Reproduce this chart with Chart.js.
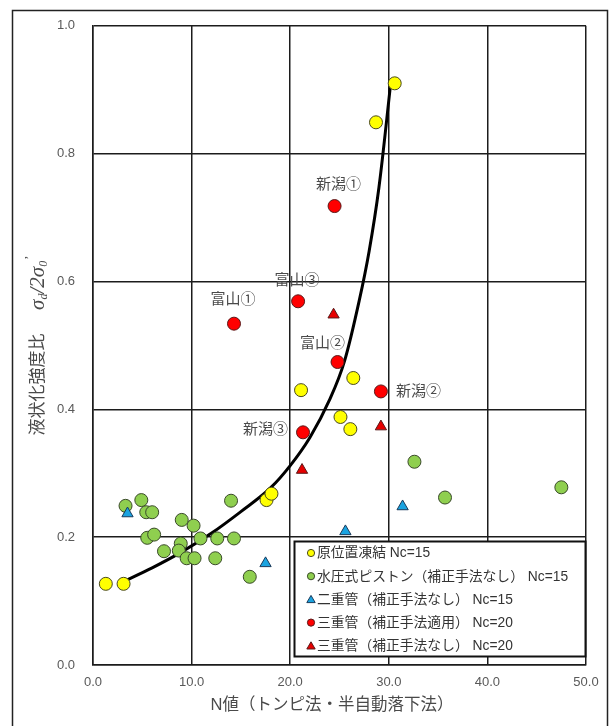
<!DOCTYPE html>
<html>
<head>
<meta charset="utf-8">
<script src="https://cdn.jsdelivr.net/npm/chart.js@4/dist/chart.umd.min.js"></script>
<style>
  html, body { margin: 0; padding: 0; background: #fff; }
  canvas { display: block; }
</style>
</head>
<body>
<canvas id="c" width="612" height="726"></canvas>
<script>
// 原位置凍結 Nc=15
const frozenN = [1.3, 3.1, 17.6, 18.1, 21.1, 26.4, 25.1, 26.1, 28.7, 30.6];
const frozenR = [0.127, 0.127, 0.258, 0.268, 0.430, 0.449, 0.388, 0.369, 0.849, 0.910];

// 水圧式ピストン（補正手法なし） Nc=15
const pistonN = [3.3, 4.9, 5.4, 6.0, 14.0, 9.0, 10.2, 5.5, 6.2, 8.9, 7.2, 8.7, 9.5, 10.3, 10.9, 12.6, 14.3, 12.4, 15.9, 32.6, 35.7, 47.5];
const pistonR = [0.249, 0.258, 0.239, 0.239, 0.257, 0.227, 0.218, 0.199, 0.204, 0.190, 0.178, 0.179, 0.167, 0.167, 0.198, 0.198, 0.198, 0.167, 0.138, 0.318, 0.262, 0.278];

// 二重管（補正手法なし） Nc=15
const doubleN = [3.5, 17.5, 25.6, 31.4];
const doubleR = [0.237, 0.159, 0.209, 0.248];

// 三重管（補正手法適用） Nc=20
const tripleCorrN = [24.5, 20.8, 14.3, 24.8, 29.2, 21.3];
const tripleCorrR = [0.718, 0.569, 0.534, 0.474, 0.428, 0.364];
const siteNames   = ['新潟①', '富山③', '富山①', '富山②', '新潟②', '新潟③'];

// 三重管（補正手法なし） Nc=20
const tripleRawN = [24.4, 21.2, 29.2];
const tripleRawR = [0.548, 0.305, 0.373];

// trend curve
const curveN = [3.0, 6.0, 9.0, 12.0, 15.0, 18.0, 20.0, 22.0, 24.0, 25.5, 27.0, 28.0, 29.0, 30.2];
const curveR = [0.130, 0.152, 0.177, 0.206, 0.240, 0.277, 0.312, 0.356, 0.415, 0.475, 0.570, 0.647, 0.747, 0.911];

const xTicks = [0, 10, 20, 30, 40, 50];
const yTicks = [0, 0.2, 0.4, 0.6, 0.8, 1.0];

const seriesNames = [
  '原位置凍結 Nc=15',
  '水圧式ピストン（補正手法なし） Nc=15',
  '二重管（補正手法なし） Nc=15',
  '三重管（補正手法適用） Nc=20',
  '三重管（補正手法なし） Nc=20'
];

const pts = (xs, ys) => xs.map((x, i) => ({ x: x, y: ys[i] }));

const FONT = '"Liberation Sans", "Noto Sans CJK JP", sans-serif';
const GRID = '#1c1c1c';

const datasets = [
  { label: seriesNames[3], data: pts(tripleCorrN, tripleCorrR), pointStyle: 'circle', pointRadius: 6.5,
    backgroundColor: '#ff0000', borderColor: '#5a1a1a', borderWidth: 1, order: 1 },
  { label: seriesNames[4], data: pts(tripleRawN, tripleRawR), pointStyle: 'triangle', pointRadius: 6.5,
    backgroundColor: '#e60000', borderColor: '#5a1a1a', borderWidth: 1, order: 1 },
  { label: seriesNames[0], data: pts(frozenN, frozenR), pointStyle: 'circle', pointRadius: 6.5,
    backgroundColor: '#ffff00', borderColor: '#4a4a20', borderWidth: 1, order: 2 },
  { label: seriesNames[2], data: pts(doubleN, doubleR), pointStyle: 'triangle', pointRadius: 6.5,
    backgroundColor: '#1aa3e0', borderColor: '#1a3a5a', borderWidth: 1, order: 2 },
  { label: seriesNames[1], data: pts(pistonN, pistonR), pointStyle: 'circle', pointRadius: 6.5,
    backgroundColor: '#8fcf4f', borderColor: '#3a4a2a', borderWidth: 1, order: 3 },
  { label: 'curve', data: pts(curveN, curveR), showLine: true, pointRadius: 0, borderColor: '#000',
    borderWidth: 3, cubicInterpolationMode: 'monotone', fill: false, order: 10 }
];

// white page with an outer frame
const framePlugin = {
  id: 'frame',
  beforeDraw(chart) {
    const ctx = chart.ctx;
    ctx.save();
    ctx.fillStyle = '#fff';
    ctx.fillRect(0, 0, chart.width, chart.height);
    ctx.strokeStyle = '#222';
    ctx.lineWidth = 1.5;
    ctx.strokeRect(12.5, 10.5, 595, 740);
    ctx.restore();
  }
};

// site names beside the 三重管 points, axis titles and the boxed legend
const textPlugin = {
  id: 'texts',
  afterDraw(chart) {
    const ctx = chart.ctx;
    const xs = chart.scales.x, ys = chart.scales.y;
    ctx.save();

    // site labels: [dx, dy, align]
    const offs = [[4, -21, 'center'], [-1, -20, 'center'], [-1, -24, 'center'],
                  [-15, -18, 'center'], [15, 0, 'left'], [-15, -2, 'right']];
    ctx.font = '15px ' + FONT;
    ctx.fillStyle = '#4a4a4a';
    ctx.textBaseline = 'middle';
    siteNames.forEach((name, i) => {
      const px = xs.getPixelForValue(tripleCorrN[i]);
      const py = ys.getPixelForValue(tripleCorrR[i]);
      ctx.textAlign = offs[i][2];
      ctx.fillText(name, px + offs[i][0], py + offs[i][1]);
    });

    // x axis title
    ctx.font = '16.5px ' + FONT;
    ctx.fillStyle = '#4a4a4a';
    ctx.textAlign = 'center';
    ctx.fillText('N値（トンピ法・半自動落下法）', 332, 705);

    // y axis title with sub/superscripts
    const SER = '"Liberation Serif", serif';
    const parts = [
      { t: '液状化強度比', f: '17px ' + FONT, dy: 0 },
      { t: '     ', f: '17px ' + FONT, dy: 0 },
      { t: 'σ', f: 'italic 21px ' + SER, dy: 0 },
      { t: 'd', f: 'italic 12px ' + SER, dy: 6 },
      { t: '/2', f: 'italic 21px ' + SER, dy: 0 },
      { t: 'σ', f: 'italic 21px ' + SER, dy: 0 },
      { t: '0', f: 'italic 12px ' + SER, dy: 6 },
      { t: '\u2019', f: 'italic 13px ' + SER, dy: -8 }
    ];
    let total = 0;
    parts.forEach(p => { ctx.font = p.f; p.w = ctx.measureText(p.t).width; total += p.w; });
    ctx.translate(38, 346);
    ctx.rotate(-Math.PI / 2);
    ctx.textAlign = 'left';
    let cx = -total / 2;
    parts.forEach(p => {
      ctx.font = p.f;
      ctx.fillText(p.t, cx, p.dy);
      cx += p.w;
    });
    ctx.setTransform(1, 0, 0, 1, 0, 0);

    // legend box
    const bx = 294.5, by = 541.5, bw = 291, bh = 115;
    ctx.fillStyle = '#fff';
    ctx.fillRect(bx, by, bw, bh);
    ctx.strokeStyle = '#111';
    ctx.lineWidth = 2;
    ctx.strokeRect(bx, by, bw, bh);

    const legendOrder = [
      { name: seriesNames[0], shape: 'circle', fill: '#ffff00', line: '#4a4a20' },
      { name: seriesNames[1], shape: 'circle', fill: '#8fcf4f', line: '#3a4a2a' },
      { name: seriesNames[2], shape: 'triangle', fill: '#1aa3e0', line: '#1a3a5a' },
      { name: seriesNames[3], shape: 'circle', fill: '#ff0000', line: '#5a1a1a' },
      { name: seriesNames[4], shape: 'triangle', fill: '#e60000', line: '#5a1a1a' }
    ];
    ctx.font = '13.8px ' + FONT;
    ctx.textBaseline = 'middle';
    ctx.textAlign = 'left';
    legendOrder.forEach((e, i) => {
      const y = 553 + i * 23.2;
      const mx = 311;
      ctx.lineWidth = 1;
      ctx.fillStyle = e.fill;
      ctx.strokeStyle = e.line;
      ctx.beginPath();
      if (e.shape === 'circle') {
        ctx.arc(mx, y, 3.6, 0, Math.PI * 2);
      } else {
        ctx.moveTo(mx, y - 4);
        ctx.lineTo(mx + 4.2, y + 3.2);
        ctx.lineTo(mx - 4.2, y + 3.2);
        ctx.closePath();
      }
      ctx.fill();
      ctx.stroke();
      ctx.fillStyle = '#333';
      ctx.fillText(e.name, 317, y + 0.5);
    });

    ctx.restore();
  }
};

new Chart(document.getElementById('c'), {
  type: 'scatter',
  data: { datasets: datasets },
  plugins: [framePlugin, textPlugin],
  options: {
    responsive: false,
    animation: false,
    layout: { padding: { left: 0, top: 23, right: 26, bottom: 0 } },
    plugins: { legend: { display: false }, tooltip: { enabled: false } },
    scales: {
      x: {
        type: 'linear', min: 0, max: 50,
        afterBuildTicks(scale) { scale.ticks = xTicks.map(v => ({ value: v })); },
        afterFit(scale) { scale.height = 61; },
        ticks: { padding: 10, color: '#595959', font: { size: 13, family: FONT },
                 callback: v => v.toFixed(1) },
        grid: { color: GRID, lineWidth: 1.5, drawTicks: false },
        border: { color: GRID, width: 1.5 }
      },
      y: {
        type: 'linear', min: 0, max: 1,
        afterBuildTicks(scale) { scale.ticks = yTicks.map(v => ({ value: v })); },
        afterFit(scale) { scale.width = 93; },
        ticks: { padding: 18, color: '#595959', font: { size: 13, family: FONT },
                 callback: v => v.toFixed(1) },
        grid: { color: GRID, lineWidth: 1.5, drawTicks: false },
        border: { color: GRID, width: 1.5 }
      }
    }
  }
});
</script>
</body>
</html>
